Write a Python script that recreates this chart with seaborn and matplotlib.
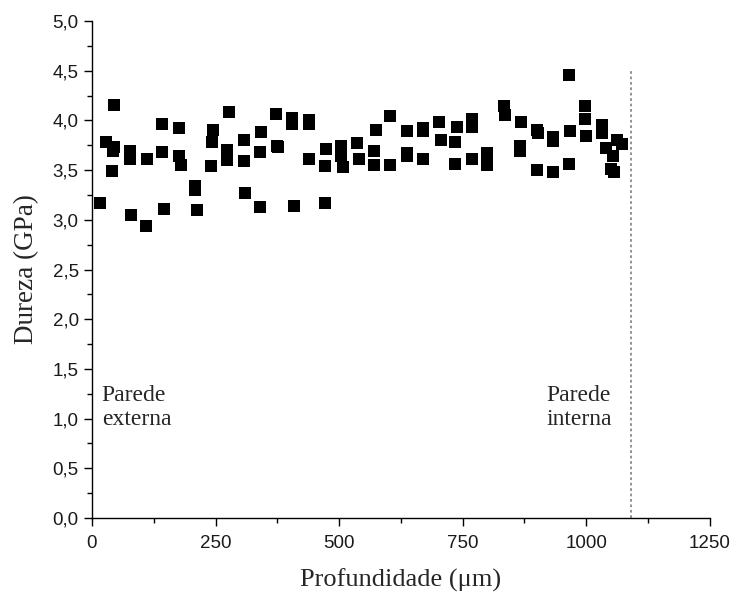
import matplotlib
matplotlib.use("Agg")
import matplotlib.pyplot as plt
import seaborn as sns
import pandas as pd
from matplotlib.ticker import MultipleLocator, FuncFormatter

depth = [16, 28, 41, 43, 45, 44, 77, 77, 79, 109, 111, 142, 142, 146, 176, 176, 180,
         208, 208, 212, 241, 242, 244, 274, 274, 277, 307, 307, 310, 339, 340, 343,
         372, 374, 376, 405, 405, 408, 440, 440, 440, 471, 472, 473, 504, 504, 507,
         537, 540, 571, 571, 574, 604, 604, 637, 638, 638, 669, 670, 670, 703, 706,
         734, 735, 738, 768, 768, 768, 800, 800, 834, 836, 866, 866, 869, 900, 902,
         900, 932, 933, 932, 965, 966, 967, 997, 997, 1000, 1031, 1032, 1041, 1050,
         1054, 1057, 1063, 1073]
hardness = [3.17, 3.78, 3.49, 3.69, 3.73, 4.16, 3.69, 3.61, 3.05, 2.94, 3.61, 3.96, 3.68,
            3.11, 3.92, 3.64, 3.55, 3.34, 3.30, 3.10, 3.54, 3.78, 3.90, 3.70, 3.60, 4.08,
            3.80, 3.59, 3.27, 3.13, 3.68, 3.88, 4.06, 3.74, 3.73, 4.02, 3.96, 3.14, 4.00,
            3.96, 3.61, 3.54, 3.17, 3.71, 3.74, 3.64, 3.53, 3.77, 3.61, 3.69, 3.55, 3.90,
            4.04, 3.55, 3.89, 3.67, 3.64, 3.61, 3.92, 3.89, 3.98, 3.80, 3.78, 3.56, 3.93,
            4.01, 3.93, 3.61, 3.67, 3.55, 4.14, 4.05, 3.74, 3.69, 3.98, 3.90, 3.87, 3.50,
            3.83, 3.79, 3.48, 3.56, 4.46, 3.89, 4.15, 4.01, 3.84, 3.95, 3.87, 3.72, 3.51,
            3.64, 3.48, 3.80, 3.76]

wall_x = 1090
wall_top = 4.5
x_label = "Profundidade (\u03bcm)"
y_label = "Dureza (GPa)"
left_text = "Parede\nexterna"
right_text = "Parede\ninterna"

df = pd.DataFrame({"x": depth, "y": hardness})

sns.set_style("ticks")
plt.rcParams["font.family"] = ["Liberation Sans", "DejaVu Sans"]

fig = plt.figure(figsize=(7.34, 5.97), dpi=100)
ax = fig.add_axes([0.1253, 0.1323, 0.967 - 0.1253, 0.9648 - 0.1323])

sns.scatterplot(data=df, x="x", y="y", marker="s", color="black", s=64,
                linewidth=0, ax=ax, legend=False)

ax.plot([wall_x, wall_x], [0, wall_top], color="#8a8a8a", lw=1.3,
        linestyle=(0, (1.5, 1.5)))

ax.set_xlim(0, 1250)
ax.set_ylim(0, 5)
ax.xaxis.set_major_locator(MultipleLocator(250))
ax.xaxis.set_minor_locator(MultipleLocator(125))
ax.yaxis.set_major_locator(MultipleLocator(0.5))
ax.yaxis.set_minor_locator(MultipleLocator(0.25))
ax.yaxis.set_major_formatter(FuncFormatter(lambda v, p: f"{v:.1f}".replace(".", ",")))
ax.xaxis.set_major_formatter(FuncFormatter(lambda v, p: f"{int(round(v))}"))

for s in ["top", "right"]:
    ax.spines[s].set_visible(False)
for s in ["left", "bottom"]:
    ax.spines[s].set_color("black")
    ax.spines[s].set_linewidth(1.0)

ax.tick_params(which="major", direction="out", length=6, width=1, color="black",
               labelsize=13.5, labelcolor="#1a1a1a")
ax.tick_params(axis="x", which="major", pad=6)
ax.tick_params(which="minor", direction="out", length=3.5, width=1, color="black")

serif = ["Liberation Serif", "DejaVu Serif"]
ax.set_xlabel(x_label, fontsize=19, family=serif, labelpad=12)
ax.set_ylabel(y_label, fontsize=19.5, family=serif, labelpad=10)

ax.text(20, 1.11, left_text, fontsize=17, family=serif, ha="left", va="center",
        linespacing=1.2)
ax.text(920, 1.11, right_text, fontsize=17, family=serif, ha="left", va="center",
        linespacing=1.2)

fig.savefig("out.png", dpi=100)
